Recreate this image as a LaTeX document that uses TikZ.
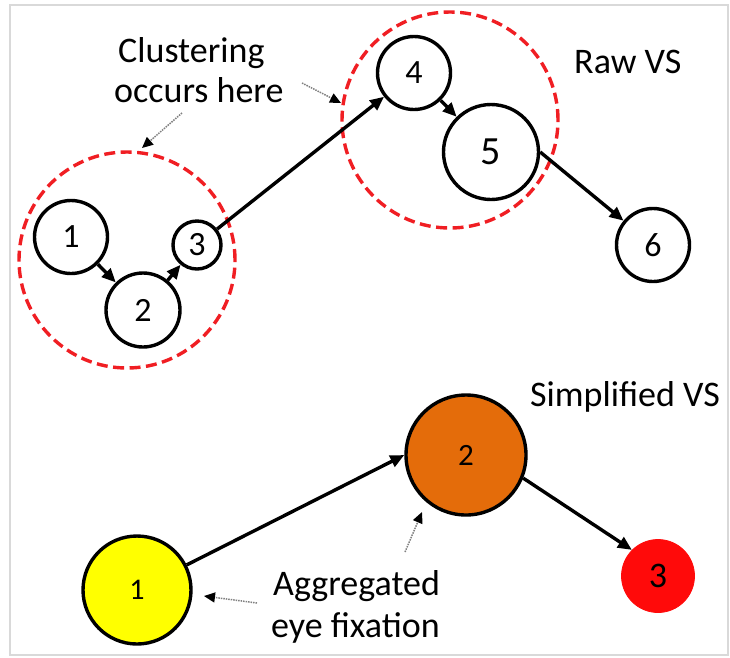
\documentclass[tikz,border=0pt]{standalone}
\usepackage{fontspec}
\setmainfont{Carlito}
\usetikzlibrary{arrows.meta}

\definecolor{framegray}{HTML}{D9D9D9}
\definecolor{clusterred}{HTML}{F01E23}
\definecolor{fixorange}{HTML}{E46C0A}
\definecolor{fixyellow}{HTML}{FFFF00}
\definecolor{fixred}{HTML}{FF0A0A}
\definecolor{notegray}{HTML}{808080}

\tikzset{
  fix/.style={circle, draw=black, line width=3.4pt, fill=white, inner sep=0pt,
              font=\fontsize{34}{34}\selectfont},
  cluster/.style={circle, draw=clusterred, line width=3.4pt,
                  dash pattern=on 11pt off 5.5pt, inner sep=0pt},
  label/.style={inner sep=0pt, anchor=base west, font=\fontsize{36}{42}\selectfont},
  flow/.style={line width=3.4pt, -{Triangle[length=14pt,width=12pt]}},
  note/.style={draw=notegray, line width=1.5pt, densely dotted,
               -{Triangle[length=11pt,width=10pt,color=black]}},
}

\begin{document}
\begin{tikzpicture}[x=1pt, y=-1pt]
  \useasboundingbox (0,0) rectangle (730,657);
  \draw[framegray, line width=2pt] (10,5) rectangle (728,655);

  % clustering regions
  \node[cluster, minimum size=216pt] (cl1) at (127,260) {};
  \node[cluster, minimum size=216pt] (cl2) at (450,120) {};

  % raw visual scanpath
  \node[fix, minimum size=73pt] (r1) at (71,237) {1};
  \node[fix, minimum size=74pt] (r2) at (143,310) {2};
  \node[fix, minimum size=48pt] (r3) at (197,245) {3};
  \node[fix, minimum size=73pt] (r4) at (414,73) {4};
  \node[fix, minimum size=95pt, font=\fontsize{40}{40}\selectfont] (r5) at (491,152) {5};
  \node[fix, minimum size=73pt] (r6) at (653,245) {6};

  \draw[flow] (r1) -- (r2);
  \draw[flow] (r2) -- (r3);
  \draw[flow] (r3) -- (r4);
  \draw[flow] (r4) -- (r5);
  \draw[flow] (r5.east) -- (r6);

  % simplified visual scanpath
  \node[fix, fill=fixyellow, minimum size=108pt, font=\fontsize{30}{30}\selectfont] (s1) at (137,590) {1};
  \node[fix, fill=fixorange, minimum size=120pt, font=\fontsize{31}{31}\selectfont] (s2) at (466,455) {2};
  \node[fix, draw=fixred, line width=0.8pt, fill=fixred, minimum size=73pt,
        font=\fontsize{36}{36}\selectfont] (s3) at (658,576) {3};

  \draw[flow] (s1) -- (s2.west);
  \draw[flow] (s2.-22) -- (s3.135);

  % labels
  \node[label] (txtA) at (118,62) {Clustering};
  \node[label] (txtB) at (114,102) {occurs here};
  \node[label] (txtRaw) at (574,73) {Raw VS};
  \node[label] (txtSimp) at (530,406) {Simplified VS};
  \node[label] (txtC) at (273,595) {Aggregated};
  \node[label] (txtD) at (271,637) {eye fixation};

  % annotation pointers
  \coordinate (p1a) at (302,83);
  \coordinate (p1b) at (341,103);
  \coordinate (p2a) at (182,113);
  \coordinate (p2b) at (142,148);
  \coordinate (p3a) at (257,603);
  \coordinate (p3b) at (204,596);
  \coordinate (p4a) at (405,552);
  \coordinate (p4b) at (422,512);
  \draw[note] (p1a) -- (p1b);
  \draw[note] (p2a) -- (p2b);
  \draw[note] (p3a) -- (p3b);
  \draw[note] (p4a) -- (p4b);
\end{tikzpicture}
\end{document}
